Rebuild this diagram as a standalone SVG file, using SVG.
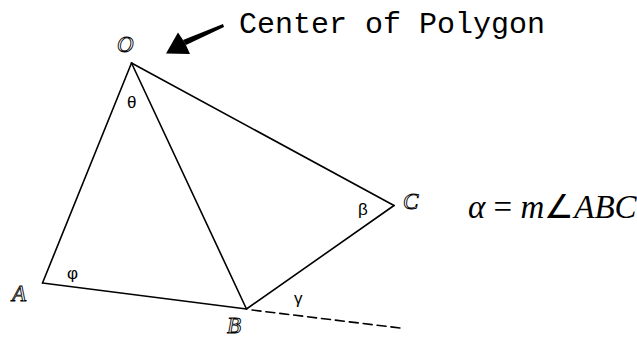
<svg xmlns="http://www.w3.org/2000/svg" width="637" height="339" viewBox="0 0 637 339">
<style>
.ln{stroke:#000;stroke-width:1.6;fill:none;stroke-linecap:round}
.dash{stroke-dasharray:9 5}
.lbl{font-family:"Liberation Serif",serif;font-style:italic;font-size:23px;fill:none;stroke:#000;stroke-width:0.9}
.gr{font-family:"Liberation Sans","DejaVu Sans",sans-serif;font-size:17px;fill:#000}
.mono{font-family:"Liberation Mono","Courier New",monospace;font-size:30px;fill:#000}
.math{font-family:"Liberation Serif","Times New Roman",serif;font-size:33px;fill:#000}
</style>
<rect width="637" height="339" fill="#fff"/>
<g id="connectors">
<line class="ln" x1="131.5" y1="63" x2="42.5" y2="283"/>
<line class="ln" x1="131.5" y1="63" x2="246.5" y2="309"/>
<line class="ln" x1="131.5" y1="63" x2="394" y2="205.5"/>
<line class="ln" x1="42.5" y1="283" x2="246.5" y2="309"/>
<line class="ln" x1="246.5" y1="309" x2="394" y2="205.5"/>
<line class="ln dash" x1="252" y1="310" x2="400" y2="328"/>
<polygon points="223,24 224,27 186,45 183,40" fill="#000"/>
<polygon points="166,53.5 178,32.5 185,43 190,54" fill="#000"/>
</g>
<g id="O"><text class="lbl" x="117" y="52">O</text></g>
<g id="A"><text class="lbl" x="12" y="301">A</text></g>
<g id="B"><text class="lbl" x="227" y="333">B</text></g>
<g id="C"><text class="lbl" x="403" y="209">C</text></g>
<g id="theta"><text class="gr" x="127" y="108">θ</text></g>
<g id="phi"><text class="gr" x="67" y="279">φ</text></g>
<g id="beta"><text class="gr" x="358" y="215">β</text></g>
<g id="gamma"><text class="gr" x="294" y="304">γ</text></g>
<g id="title"><text class="mono" x="239" y="33">Center of Polygon</text></g>
<g id="formula"><text class="math" x="468" y="218"><tspan font-style="italic">α</tspan> = <tspan font-style="italic">m</tspan>∠<tspan font-style="italic">ABC</tspan></text></g>
</svg>
